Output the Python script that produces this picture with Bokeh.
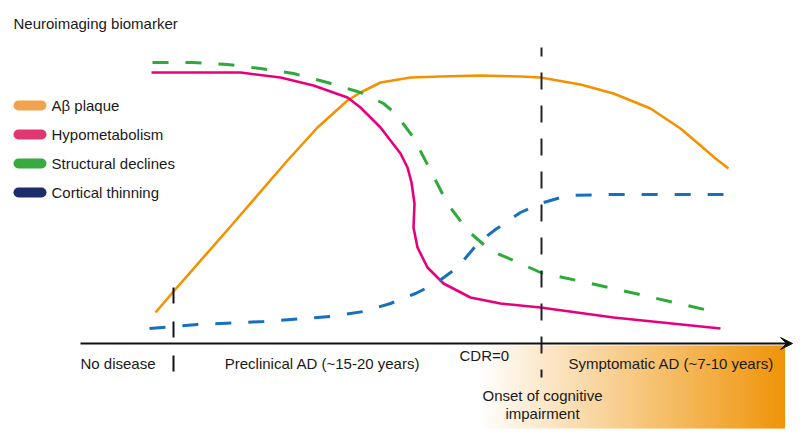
import numpy as np
from bokeh.plotting import figure
from bokeh.models import Range1d, Arrow, VeeHead
from bokeh.core.properties import value
from bokeh.embed import file_html
from bokeh.resources import INLINE

# ---- data (time axis position -> biomarker level) ----
abeta_t = [155, 173, 230, 287, 317, 347, 360, 380, 410, 440, 480, 520, 540, 580, 613, 650, 680, 700, 715, 728]
abeta_y = [312, 291, 226, 160, 127, 100, 92, 82, 77, 76, 75, 76, 77, 84, 93, 108, 128, 145, 158, 168]

hypo_t = [151, 200, 240, 280, 313, 347, 360, 380, 400, 407, 411, 414, 413, 417, 427, 443, 470, 500, 540, 613, 720]
hypo_y = [72, 72, 72, 77, 85, 97, 107, 127, 153, 167, 182, 203, 227, 247, 267, 283, 297, 303, 307, 317, 328]

struct_t = [152, 193, 227, 260, 293, 327, 360, 383, 395, 413, 430, 447, 467, 490, 520, 540, 613, 717]
struct_y = [62, 62, 64, 68, 73, 82, 92, 103, 113, 137, 170, 203, 230, 250, 263, 272, 288, 312]

cort_t = [149, 197, 263, 330, 363, 390, 415, 435, 457, 478, 495, 520, 540, 567, 613, 723]
cort_y = [328, 324, 321, 316, 311, 303, 293, 283, 267, 242, 229, 212, 203, 195, 194, 194]

legend_labels = ["A\u03b2 plaque", "Hypometabolism", "Structural declines", "Cortical thinning"]
legend_colors = ["#F0A24F", "#DF3870", "#3AAA40", "#1D2D6C"]
legend_rows = [105, 134, 163, 192]

stage_labels = ["No disease", "Preclinical AD (~15-20 years)", "Symptomatic AD (~7-10 years)"]
stage_x = [80, 322, 568]
stage_align = ["left", "center", "left"]

# ---- figure ----
W, H = 800, 446
p = figure(width=W, height=H, x_range=Range1d(0, W), y_range=Range1d(H, 0),
           output_backend="svg", toolbar_location=None, min_border=0)
p.axis.visible = False
p.grid.visible = False
p.outline_line_color = None
p.background_fill_color = "white"
p.border_fill_color = "white"

FONT = value("Liberation Sans")
TXT = "#1a1a1a"

# gradient band for symptomatic phase
gx0, gx1, gy0, gy1 = 478, 784, 345, 428
n = 153
edges = np.linspace(gx0, gx1, n + 1)
f = np.linspace(0, 1, n)
c0 = np.array([255, 255, 255])
c1 = np.array([240, 149, 10])
cols = ["#%02x%02x%02x" % tuple((c0 + (c1 - c0) * k).astype(int)) for k in f]
p.quad(left=edges[:-1], right=edges[1:] + 0.6, top=gy0, bottom=gy1, fill_color=cols, line_color=None)

# curves
p.line(abeta_t, abeta_y, line_color="#F39200", line_width=2.6, line_join="round")
p.line(hypo_t, hypo_y, line_color="#E6007E", line_width=2.6, line_join="round")
p.line(struct_t, struct_y, line_color="#2DAA3C", line_width=3, line_dash="16 17")
p.line(cort_t, cort_y, line_color="#1770BD", line_width=3, line_dash="16 17")

# onset vertical dashed line
p.line([541, 541], [47, 377], line_color="#222222", line_width=2, line_dash="17 16", line_dash_offset=8)
# stage boundary tick
p.line([173, 173], [287, 371], line_color="#111111", line_width=2, line_dash="16 18")

# time axis arrow
p.add_layout(Arrow(x_start=80, y_start=343, x_end=792, y_end=343, line_width=2, line_color="#111111",
                   end=VeeHead(size=12, fill_color="#111111", line_color="#111111")))

# legend
p.text(x=[13], y=[23], text=["Neuroimaging biomarker"], text_font=FONT, text_font_size="15px",
       text_color=TXT, text_baseline="middle", text_align="left")
p.segment(x0=[18] * 4, x1=[41] * 4, y0=legend_rows, y1=legend_rows, line_color=legend_colors,
          line_width=10, line_cap="round")
p.text(x=[51] * 4, y=legend_rows, text=legend_labels, text_font=FONT, text_font_size="15px",
       text_color=TXT, text_baseline="middle", text_align="left")

# stage labels
p.text(x=stage_x, y=[363] * 3, text=stage_labels, text_font=FONT, text_font_size="15px",
       text_color=TXT, text_baseline="middle", text_align=stage_align)
p.text(x=[459], y=[355], text=["CDR=0"], text_font=FONT, text_font_size="15px",
       text_color=TXT, text_baseline="middle", text_align="left")
p.text(x=[542, 542], y=[395, 413], text=["Onset of cognitive", "impairment"], text_font=FONT,
       text_font_size="15px", text_color=TXT, text_baseline="middle", text_align="center")

open("out.html", "w").write(file_html(p, INLINE))
